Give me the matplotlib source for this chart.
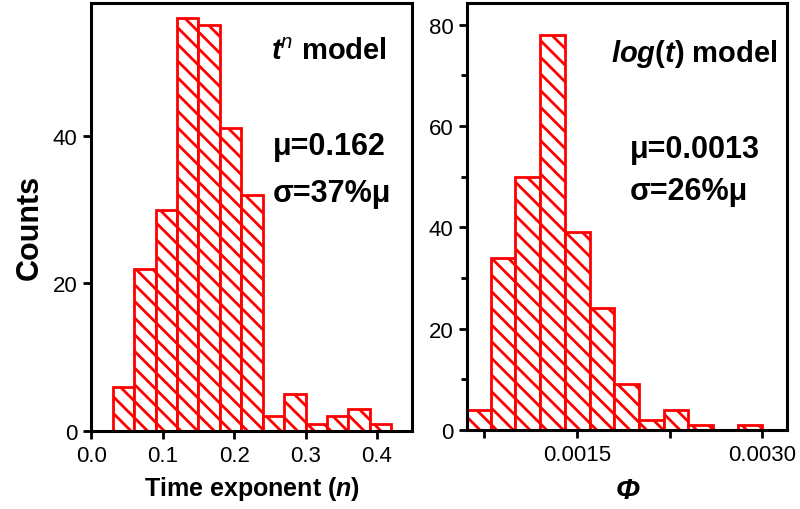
import matplotlib
matplotlib.use('Agg')
import matplotlib.pyplot as plt
from matplotlib.ticker import MultipleLocator, FormatStrFormatter

# left panel: time exponent n histogram (t^n model)
n_edges = [0.03, 0.06, 0.09, 0.12, 0.15, 0.18, 0.21, 0.24, 0.27, 0.30, 0.33, 0.36, 0.39, 0.42]
n_counts = [6, 22, 30, 56, 55, 41, 32, 2, 5, 1, 2, 3, 1]

# right panel: Phi histogram (log(t) model)
phi_edges = [0.0006, 0.0008, 0.0010, 0.0012, 0.0014, 0.0016, 0.0018, 0.0020,
             0.0022, 0.0024, 0.0026, 0.0028, 0.0030]
phi_counts = [4, 34, 50, 78, 39, 24, 9, 2, 4, 1, 0, 1]

plt.rcParams['font.family'] = ['Liberation Sans', 'DejaVu Sans']
plt.rcParams['mathtext.fontset'] = 'custom'
plt.rcParams['mathtext.rm'] = 'Liberation Sans:bold'
plt.rcParams['mathtext.it'] = 'Liberation Sans:italic'
plt.rcParams['mathtext.bf'] = 'Liberation Sans:bold'
plt.rcParams['mathtext.bfit'] = 'Liberation Sans:bold:italic'
plt.rcParams['hatch.linewidth'] = 2.0
plt.rcParams['hatch.color'] = 'red'

fig = plt.figure(figsize=(8, 5.1), dpi=100)
ax1 = fig.add_axes([0.114, 0.153, 0.401, 0.839])
ax2 = fig.add_axes([0.584, 0.155, 0.400, 0.837])


def draw_hist(ax, edges, counts):
    lefts = edges[:-1]
    widths = [edges[i + 1] - edges[i] for i in range(len(counts))]
    ax.bar(lefts, counts, width=widths, align='edge', facecolor='white',
           edgecolor='red', linewidth=2, hatch='\\\\', zorder=2)
    for s in ax.spines.values():
        s.set_linewidth(2.2)
    ax.tick_params(which='major', direction='out', length=6, width=2,
                   labelsize=16, pad=4)
    ax.tick_params(which='minor', direction='out', length=4, width=2)


draw_hist(ax1, n_edges, n_counts)
ax1.set_xlim(0, 0.449)
ax1.set_ylim(0, 58)
ax1.xaxis.set_major_locator(MultipleLocator(0.1))
ax1.xaxis.set_major_formatter(FormatStrFormatter('%.1f'))
ax1.yaxis.set_major_locator(MultipleLocator(20))
ax1.set_xlabel('Time exponent ($\\mathbfit{n}$)', fontsize=18, fontweight='bold', labelpad=6)
ax1.set_ylabel('Counts', fontsize=22, fontweight='bold')
ax1.yaxis.set_label_coords(-0.145, 0.479)
ax1.text(0.922, 0.869, r'$\mathbfit{t}^{\mathit{n}}$ model', transform=ax1.transAxes,
         ha='right', va='baseline', fontsize=21, fontweight='bold')
ax1.text(0.567, 0.647, '\u03bc=0.162', transform=ax1.transAxes,
         ha='left', va='baseline', fontsize=22, fontweight='bold')
ax1.text(0.567, 0.537, '\u03c3=37%\u03bc', transform=ax1.transAxes,
         ha='left', va='baseline', fontsize=22, fontweight='bold')

draw_hist(ax2, phi_edges, phi_counts)
ax2.set_xlim(0.00061, 0.0032)
ax2.set_ylim(0, 84.3)
ax2.xaxis.set_major_locator(MultipleLocator(0.0015))
ax2.xaxis.set_minor_locator(MultipleLocator(0.00075))
ax2.xaxis.set_major_formatter(FormatStrFormatter('%.4f'))
ax2.tick_params(axis='x', which='minor', length=6)
ax2.yaxis.set_major_locator(MultipleLocator(20))
ax2.yaxis.set_minor_locator(MultipleLocator(10))
ax2.set_xlabel('\u03a6', fontsize=21, fontweight='bold', fontstyle='italic', labelpad=8)
ax2.text(0.969, 0.864, r'$\mathbfit{log}\mathrm{(}\mathbfit{t}\mathrm{)}$ model', transform=ax2.transAxes,
         ha='right', va='baseline', fontsize=21, fontweight='bold')
ax2.text(0.509, 0.639, '\u03bc=0.0013', transform=ax2.transAxes,
         ha='left', va='baseline', fontsize=22, fontweight='bold')
ax2.text(0.509, 0.541, '\u03c3=26%\u03bc', transform=ax2.transAxes,
         ha='left', va='baseline', fontsize=22, fontweight='bold')

fig.savefig('out.png', dpi=100)
